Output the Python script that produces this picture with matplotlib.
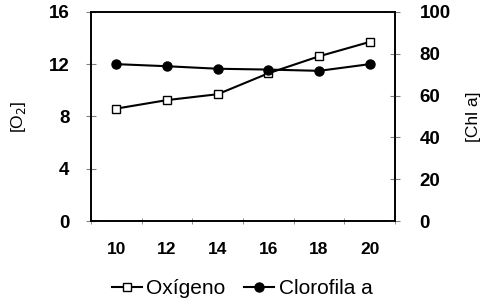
import matplotlib
matplotlib.use("Agg")
import matplotlib.pyplot as plt
import numpy as np

temp = [10, 12, 14, 16, 18, 20]
oxigeno = [8.6, 9.25, 9.7, 11.3, 12.6, 13.7]
clorofila = [75, 74, 72.8, 72.4, 71.8, 75]

plt.rcParams['font.family'] = ['Liberation Sans', 'DejaVu Sans']

fig = plt.figure(figsize=(4.92, 3.04), dpi=100)
ax = fig.add_axes([0.185, 0.273, 0.618, 0.688])
ax2 = ax.twinx()

x = np.arange(len(temp))
l1, = ax.plot(x, oxigeno, color='black', lw=1.5, marker='s', ms=6,
              mfc='white', mec='black', mew=1, label='Oxígeno')
l2, = ax2.plot(x, clorofila, color='black', lw=1.5, marker='o', ms=6.5,
               mfc='black', mec='black', label='Clorofila a')

ax.set_xlim(-0.5, len(temp) - 0.5)
ax.set_ylim(0, 16)
ax2.set_ylim(0, 100)
ax.set_yticks([0, 4, 8, 12, 16])
ax2.set_yticks([0, 20, 40, 60, 80, 100])

# category labels centred, tick marks between categories
ax.set_xticks(x)
ax.set_xticklabels([str(t) for t in temp])
ax.set_xticks(np.arange(-0.5, len(temp)), minor=True)
ax.tick_params(axis='x', which='major', length=0, pad=15)
ax.tick_params(axis='x', which='minor', length=4, direction='inout', color='gray')
ax.tick_params(axis='y', length=7, direction='inout', color='gray', pad=12)
ax2.tick_params(axis='y', length=7, direction='inout', color='gray', pad=14)

for lab in ax.get_xticklabels():
    lab.set_fontweight('bold')
    lab.set_fontsize(12.5)
for lab in ax.get_yticklabels() + ax2.get_yticklabels():
    lab.set_fontweight('bold')
    lab.set_fontsize(13.5)

ax.set_ylabel('[O$_2$]', fontsize=12.5, labelpad=15)
ax2.set_ylabel('[Chl a]', fontsize=12.5, labelpad=11)

for a in (ax, ax2):
    for s in a.spines.values():
        s.set_linewidth(1.2)

fig.legend(handles=[l1, l2], loc='center', bbox_to_anchor=(0.492, 0.05), ncol=2,
           frameon=False, fontsize=15, handlelength=1.45, handletextpad=0.2,
           columnspacing=0.9)

fig.savefig('out.png', dpi=100)
